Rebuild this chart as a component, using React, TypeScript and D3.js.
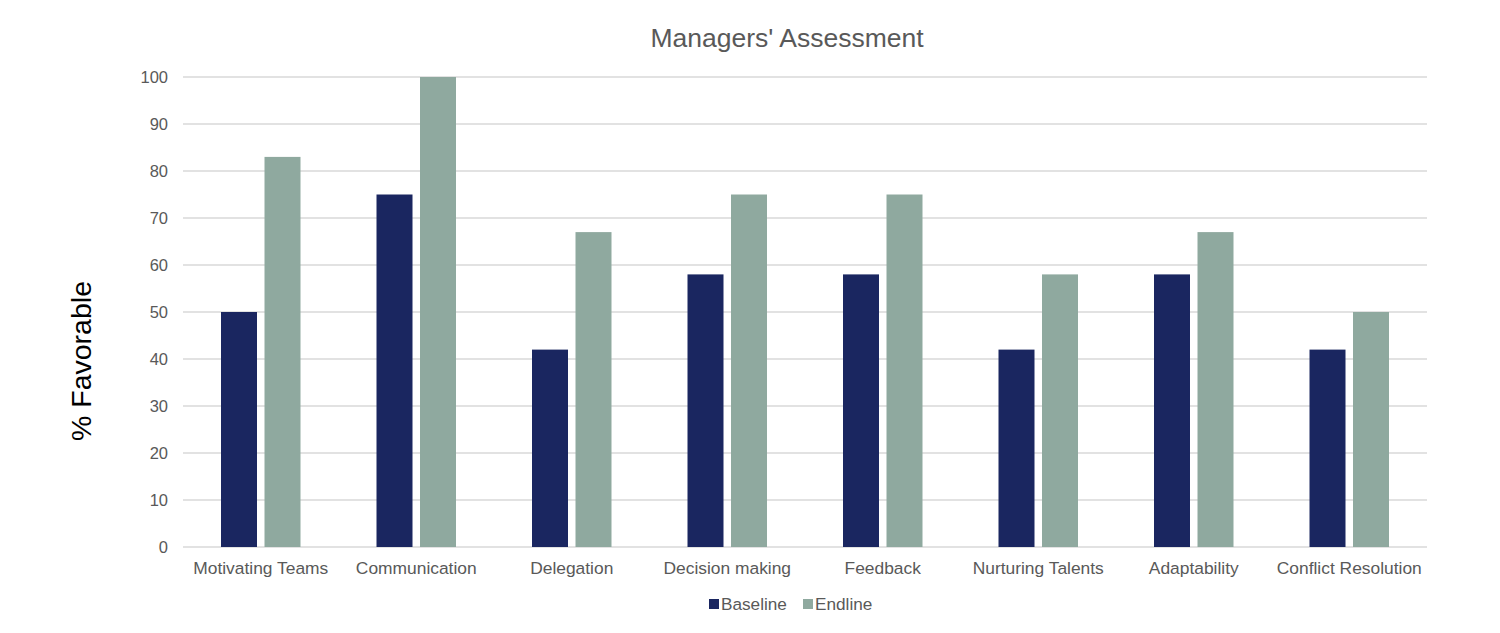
import React from "react";
import * as d3 from "d3";

const categories = ["Motivating Teams", "Communication", "Delegation", "Decision making", "Feedback", "Nurturing Talents", "Adaptability", "Conflict Resolution"];
const seriesNames = ["Baseline", "Endline"];
const baseline = [50, 75, 42, 58, 58, 42, 58, 42];
const endline = [83, 100, 67, 75, 75, 58, 67, 50];
const yTicks = [0, 10, 20, 30, 40, 50, 60, 70, 80, 90, 100];
const colors = ["#1a2660", "#8fa99f"];

export default function App() {
  const W = 1500, H = 633;
  const left = 183, right = 1427, top = 77, bottom = 547;
  const y = d3.scaleLinear().domain([0, 100]).range([bottom, top]);
  const barW = 36, gap = 7.5;
  const font = "'Liberation Sans', Arial, sans-serif";
  const series = [baseline, endline];
  const xb = d3.scaleBand<string>().domain(categories).range([left, right]);
  return (
    <svg width={W} height={H} style={{ position: "absolute", left: 0, top: 0, fontFamily: font }}>
      <rect width={W} height={H} fill="#fff" />
      <text x={787} y={47} textAnchor="middle" fontSize={26.5} fill="#595959">Managers' Assessment</text>
      {yTicks.map((t) => (
        <g key={t}>
          <line x1={left} x2={right} y1={y(t)} y2={y(t)} stroke="#d9d9d9" strokeWidth={1.3} />
          <text x={168} y={y(t) + 6} textAnchor="end" fontSize={16.5} fill="#595959">{t}</text>
        </g>
      ))}
      {categories.map((c, i) => {
        const cx = (xb(c) as number) + xb.bandwidth() / 2;
        return (
          <g key={c}>
            {series.map((s, j) => {
              const xPos = j === 0 ? cx - gap / 2 - barW : cx + gap / 2;
              return (
                <rect key={j} x={xPos} y={y(s[i])} width={barW} height={y(0) - y(s[i])} fill={colors[j]} />
              );
            })}
            <text x={cx} y={574} textAnchor="middle" fontSize={17.4} fill="#595959">{c}</text>
          </g>
        );
      })}
      <text transform={`translate(91,361) rotate(-90)`} textAnchor="middle" fontSize={28.5} fill="#000">% Favorable</text>
      {seriesNames.map((n, j) => {
        const lx = j === 0 ? 709 : 803;
        return (
          <g key={n}>
            <rect x={lx} y={599} width={10} height={10} fill={colors[j]} />
            <text x={lx + 12} y={610} fontSize={17.2} fill="#595959">{n}</text>
          </g>
        );
      })}
    </svg>
  );
}
